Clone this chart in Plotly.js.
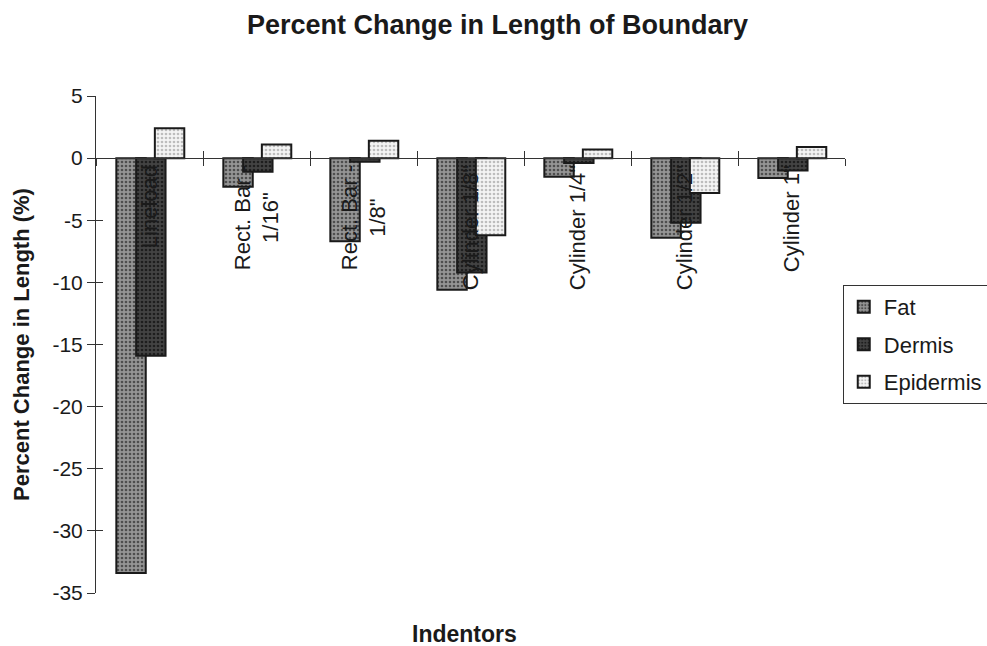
<!DOCTYPE html>
<html>
<head>
<meta charset="utf-8">
<script src="https://cdn.plot.ly/plotly-3.0.1.min.js"></script>
<style>html,body{margin:0;padding:0;background:#fff;}#chart{width:987px;height:646px;}</style>
</head>
<body>
<div id="chart"></div>
<script>
const categories = ['Lineload', 'Rect. Bar - 1/16"', 'Rect. Bar - 1/8"', 'Cylinder 1/8"', 'Cylinder 1/4"', 'Cylinder 1/2"', 'Cylinder 1"'];
const categoryLabels = ['Lineload', 'Rect. Bar -<br>1/16"', 'Rect. Bar -<br>1/8"', 'Cylinder 1/8"', 'Cylinder 1/4"', 'Cylinder 1/2"', 'Cylinder 1"'];
const fat = [-33.4, -2.3, -6.7, -10.6, -1.5, -6.4, -1.6];
const dermis = [-15.9, -1.1, -0.3, -9.2, -0.4, -5.2, -1.0];
const epidermis = [2.4, 1.1, 1.4, -6.2, 0.7, -2.8, 0.9];
const seriesNames = ['Fat', 'Dermis', 'Epidermis'];
const yTicks = [5, 0, -5, -10, -15, -20, -25, -30, -35];

const FONT = '"Liberation Sans", Arial, Helvetica, sans-serif';
const styles = [
  {bg: '#959595', fg: '#4e4e4e', offset: -0.31},
  {bg: '#434343', fg: '#1e1e1e', offset: -0.125},
  {bg: '#f4f4f4', fg: '#bdbdbd', offset: 0.05}
];
const values = [fat, dermis, epidermis];

const traces = values.map((v, i) => ({
  type: 'bar',
  name: seriesNames[i],
  legendgroup: 'g' + i,
  x: categories,
  y: v,
  offset: styles[i].offset,
  width: 0.275,
  marker: {
    color: styles[i].bg,
    line: {color: '#1a1a1a', width: 2},
    pattern: {shape: '.', fgcolor: styles[i].fg, bgcolor: styles[i].bg, size: 4, solidity: 0.35}
  },
  hoverinfo: 'x+y'
}));

traces.push({
  type: 'scatter', mode: 'markers', x: categories, y: categories.map(() => null),
  xaxis: 'x2', yaxis: 'y2', showlegend: false, hoverinfo: 'skip'
});

const zeroPos = (0 - (-35)) / (5 - (-35));

const annotations = categoryLabels.map((t, i) => ({
  x: categories[i], y: 0, xref: 'x', yref: 'y',
  text: t, textangle: -90, showarrow: false,
  xanchor: 'center', yanchor: 'top', yshift: -5, align: 'center',
  font: {family: FONT, size: 22, color: '#1a1a1a'}
}));
annotations.push({
  text: '<b>Indentors</b>', xref: 'paper', yref: 'paper', x: 0.492, y: -0.083,
  xanchor: 'center', yanchor: 'middle', showarrow: false,
  font: {family: FONT, size: 23, color: '#1a1a1a'}
});

const layout = {
  width: 987, height: 646,
  paper_bgcolor: '#ffffff', plot_bgcolor: '#ffffff',
  margin: {l: 96, r: 142, t: 96, b: 53, autoexpand: false},
  font: {family: FONT, size: 21, color: '#1a1a1a'},
  barmode: 'overlay',
  title: {
    text: '<b>Percent Change in Length of Boundary</b>',
    xref: 'container', x: 0.504, y: 0.962, yanchor: 'middle',
    font: {family: FONT, size: 27, color: '#1a1a1a'}
  },
  xaxis: {
    type: 'category', categoryorder: 'array', categoryarray: categories,
    anchor: 'free', position: zeroPos,
    showline: true, linecolor: '#333', linewidth: 1,
    ticks: 'outside', tickson: 'boundaries', ticklen: 7, tickcolor: '#333', tickwidth: 1,
    showticklabels: false, showgrid: false, zeroline: false,
    range: [-0.5, 6.5]
  },
  xaxis2: {
    type: 'category', categoryorder: 'array', categoryarray: categories,
    overlaying: 'x', anchor: 'free', position: zeroPos,
    showline: false, ticks: 'inside', tickson: 'boundaries', ticklen: 7, tickcolor: '#333', tickwidth: 1,
    showticklabels: false, showgrid: false, zeroline: false,
    range: [-0.5, 6.5]
  },
  yaxis: {
    range: [-35, 5], tickvals: yTicks, ticktext: yTicks.map(String),
    showline: true, linecolor: '#333', linewidth: 1,
    ticks: 'outside', ticklen: 8, tickcolor: '#333', tickwidth: 1,
    showgrid: false, zeroline: false,
    tickfont: {family: FONT, size: 21, color: '#1a1a1a'},
    title: {text: '<b>Percent Change in Length (%)</b>', standoff: 16,
            font: {family: FONT, size: 22, color: '#1a1a1a'}}
  },
  yaxis2: {
    range: [-35, 5], tickvals: yTicks, overlaying: 'y', anchor: 'x',
    side: 'left', showline: false,
    ticks: 'inside', ticklen: 7, tickcolor: '#333', tickwidth: 1,
    showticklabels: false, showgrid: false, zeroline: false
  },
  legend: {
    x: 0.997, xref: 'paper', xanchor: 'left',
    y: 0.62, yref: 'paper', yanchor: 'top',
    bordercolor: '#333', borderwidth: 1, bgcolor: 'rgba(255,255,255,0)',
    font: {family: FONT, size: 22, color: '#1a1a1a'},
    traceorder: 'grouped', tracegroupgap: 6
  },
  annotations: annotations,
  showlegend: true
};

Plotly.newPlot('chart', traces, layout, {displayModeBar: false, staticPlot: true});
</script>
</body>
</html>
